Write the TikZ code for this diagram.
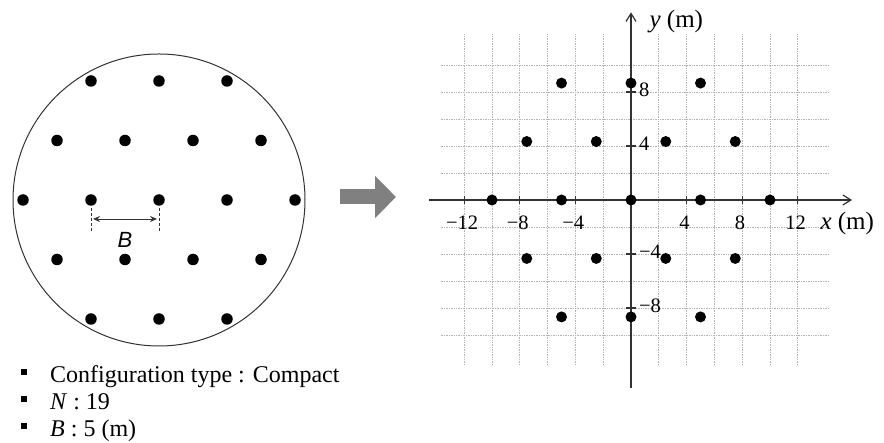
\documentclass[tikz,border=0pt]{standalone}
\usepackage{fontspec}
\setmainfont{Liberation Serif}
\newfontfamily\arialfont{Liberation Sans}
\usetikzlibrary{arrows.meta,positioning,calc}
\definecolor{Ring}{HTML}{333333}
\definecolor{Grid}{HTML}{B4B4B4}
\definecolor{Block}{HTML}{808080}

\begin{document}
\begin{tikzpicture}[x=1pt,y=1pt,
    site/.style={circle,fill=black,inner sep=0pt,minimum size=11.5pt},
    gridline/.style={Grid,densely dotted,line width=0.7pt},
    axisline/.style={Ring,line width=1.2pt},
    ticklab/.style={font=\fontsize{20.5}{20.5}\selectfont,inner sep=1pt}]
  \useasboundingbox (0,0) rectangle (884,443);
  % compact layout in the circle
  \node[draw=Ring,line width=1pt,circle,minimum size=292pt,inner sep=0pt] (ring) at (159,243) {};
  \foreach \j in {-2,...,2} {
    \pgfmathtruncatemacro\n{4-abs(\j)}
    \foreach \i in {0,...,\n}
      \node[site] (c\i r\j) at ({159+(\i-\n/2)*68},{243+\j*59.5}) {};
  }
  \draw[Ring,densely dashed,line width=0.5pt] ([yshift=-2pt]c1r0.south) -- ++(0,-23);
  \draw[Ring,densely dashed,line width=0.5pt] ([yshift=-2pt]c2r0.south) -- ++(0,-23);
  \coordinate (bl) at ($(c1r0)+(2,-19)$);
  \coordinate (br) at ($(c2r0)+(-2,-19)$);
  \draw[{Stealth[length=7pt,width=6pt]}-{Stealth[length=7pt,width=6pt]},Ring,line width=0.8pt] (bl) -- (br);
  \node[font=\fontsize{22}{22}\selectfont\arialfont\itshape] (blab) at ($(bl)!0.5!(br)+(0,-21)$) {B};
  % list
  \node[anchor=base west,inner sep=0pt,font=\fontsize{24}{24}\selectfont] (l1) at (21,60)
    {\raisebox{8pt}{\rule{6pt}{6pt}}\hspace{23pt}Configuration type : Compact};
  \node[anchor=base west,inner sep=0pt,font=\fontsize{24}{24}\selectfont] (l2) at ([yshift=-27pt]l1.base west)
    {\raisebox{8pt}{\rule{6pt}{6pt}}\hspace{23pt}\textit{N} : 19};
  \node[anchor=base west,inner sep=0pt,font=\fontsize{24}{24}\selectfont] (l3) at ([yshift=-27pt]l2.base west)
    {\raisebox{8pt}{\rule{6pt}{6pt}}\hspace{23pt}\textit{B} : 5 (m)};
  % block arrow
  \coordinate (go) at (340,246);
  \coordinate (gone) at (396,246);
  \draw[Block,line width=15pt,-{Triangle[length=21pt,width=41pt]}] (go) -- (gone);
  % coordinates of the layout
  \begin{scope}[shift={(631,243)},x=13.9pt,y=13.5pt]
    \foreach \y in {-10,-8,...,10} \draw[gridline] (-13.7,\y) -- (14.3,\y);
    \foreach \x in {-12,-10,...,12} \draw[gridline] (\x,-12.2) -- (\x,12.3);
    \coordinate (xs) at (-14.5,0);
    \coordinate (xe) at (15.9,0);
    \coordinate (ys) at (0,-13.9);
    \coordinate (ye) at (0,13.9);
    \draw[axisline,-{Straight Barb[length=8pt,width=10pt]}] (xs) -- (xe);
    \draw[axisline,-{Straight Barb[length=8pt,width=10pt]}] (ys) -- (ye);
    \foreach \x in {-12,-8,-4,4,8,12} {
      \draw[axisline] (\x,0.3) -- (\x,-0.3);
      \node[ticklab,anchor=base] (xl\x) at (\x-0.15,-2.2) {\ifnum\x<0 −\fi\pgfmathparse{int(abs(\x))}\pgfmathresult};
    }
    \foreach \y in {-8,-4,4,8} {
      \draw[axisline] (-0.35,\y) -- (0.35,\y);
      \node[ticklab,anchor=base west] (yl\y) at (0.5,\y-0.3) {\ifnum\y<0 −\fi\pgfmathparse{int(abs(\y))}\pgfmathresult};
    }
    \node[anchor=base west,inner sep=1pt,font=\fontsize{25}{25}\selectfont] (xname) at (13.55,-2.15) {\textit{x} (m)};
    \node[anchor=base west,inner sep=1pt,font=\fontsize{25}{25}\selectfont] (yname) at (1.25,12.74) {\textit{y} (m)};
    \foreach \j in {-2,...,2} {
      \pgfmathtruncatemacro\n{4-abs(\j)}
      \foreach \i in {0,...,\n}
        \node[site,minimum size=11pt] (p\i r\j) at ({(\i-\n/2)*5},{\j*4.33}) {};
    }
  \end{scope}
\end{tikzpicture}
\end{document}
